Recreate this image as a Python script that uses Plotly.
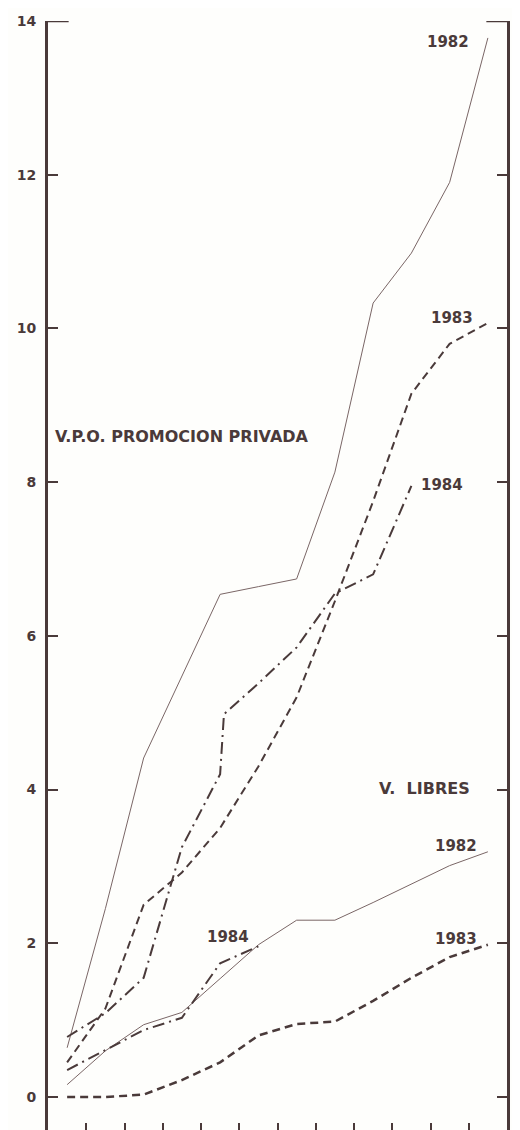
import plotly.graph_objects as go

# Months (1..12) on the x axis
months = [1, 2, 3, 4, 5, 6, 7, 8, 9, 10, 11, 12]

# V.P.O. promocion privada
vpo_1982 = [0.64, 2.45, 4.41, 5.47, 6.54, 6.64, 6.74, 8.13, 10.33, 10.98, 11.9, 13.78]
vpo_1983 = [0.45, 1.15, 2.5, 2.92, 3.5, 4.3, 5.2, 6.45, 7.75, 9.15, 9.8, 10.07]
vpo_1984_x = [1, 2, 3, 4, 5, 5.1, 6, 7, 8, 9, 10]
vpo_1984 = [0.78, 1.09, 1.55, 3.25, 4.2, 4.98, 5.38, 5.85, 6.55, 6.8, 7.95]

# V. libres
lib_1982 = [0.16, 0.6, 0.94, 1.1, 1.54, 1.98, 2.3, 2.3, 2.53, 2.77, 3.01, 3.19]
lib_1983 = [0.0, 0.0, 0.03, 0.22, 0.45, 0.8, 0.95, 0.98, 1.25, 1.55, 1.82, 1.98]
lib_1984_x = [1, 2, 3, 4, 5, 6]
lib_1984 = [0.35, 0.61, 0.87, 1.03, 1.74, 1.96]

y_ticks = [0, 2, 4, 6, 8, 10, 12, 14]
x_ticks = [1.5, 2.5, 3.5, 4.5, 5.5, 6.5, 7.5, 8.5, 9.5, 10.5, 11.5]

INK = "#4a3a3a"
THIN = "#7a6666"
FONT = "DejaVu Sans, Verdana, sans-serif"

DASH = "8px,5px"
DASHDOT = "12px,5px,2px,5px"

# page body has an 8px default margin
OFF = 8
W, H = 520, 1130
ML, MR, MT, MB = 48 - OFF, 21, 21 - OFF, OFF
PW, PH = W - ML - MR, H - MT - MB

fig = go.Figure()

def add(x, y, color, width, dash):
    fig.add_trace(go.Scatter(x=x, y=y, mode="lines",
                             line=dict(color=color, width=width, dash=dash),
                             showlegend=False, hoverinfo="skip"))

add(months, vpo_1982, THIN, 1, "solid")
add(months, vpo_1983, INK, 2, DASH)
add(vpo_1984_x, vpo_1984, INK, 2, DASHDOT)
add(months, lib_1982, THIN, 1, "solid")
add(months, lib_1983, INK, 2.5, DASH)
add(lib_1984_x, lib_1984, INK, 2, DASHDOT)

labels = [
    ("1982", 448, 42, "center", 15),
    ("1983", 452, 318, "center", 15),
    ("1984", 442, 485, "center", 15),
    ("V.P.O. PROMOCION PRIVADA", 53, 437, "left", 16),
    ("V.  LIBRES", 377, 788, "left", 16),
    ("1982", 456, 846, "center", 15),
    ("1983", 456, 939, "center", 15),
    ("1984", 228, 937, "center", 15),
]
for text, px, py, anchor, size in labels:
    fig.add_annotation(text=text, x=(px - OFF - ML) / PW, y=(H - MB - (py - OFF)) / PH,
                       xref="paper", yref="paper",
                       xanchor=anchor, yanchor="middle", showarrow=False,
                       font=dict(family=FONT, size=size, color=INK, weight="bold"))

# top brackets of the frame at the value 14
fig.add_shape(type="line", xref="paper", yref="y", x0=0, x1=0.045, y0=14, y1=14,
              line=dict(color=INK, width=2.5))
fig.add_shape(type="line", xref="paper", yref="y", x0=0.955, x1=1, y0=14, y1=14,
              line=dict(color=INK, width=2.5))

fig.update_layout(
    width=W, height=H,
    margin=dict(l=ML, r=MR, t=MT, b=MB, autoexpand=False),
    paper_bgcolor="#fefefc", plot_bgcolor="#fefefc",
    font=dict(family=FONT, color=INK),
    xaxis=dict(range=[0.5, 12.5], tickvals=x_ticks, ticks="inside", ticklen=7,
               tickwidth=1.5, tickcolor=INK, showticklabels=False, showline=False,
               showgrid=False, zeroline=False, automargin=False),
    yaxis=dict(range=[-0.43, 14], tickvals=y_ticks, ticks="inside", ticklen=10,
               tickwidth=2, tickcolor=INK, showline=True, linewidth=3, linecolor=INK,
               mirror="allticks", showgrid=False, zeroline=False, automargin=False,
               tickfont=dict(family=FONT, size=14, color=INK, weight="bold"),
               ticklabelstandoff=6),
)

fig.write_html("out.html")
